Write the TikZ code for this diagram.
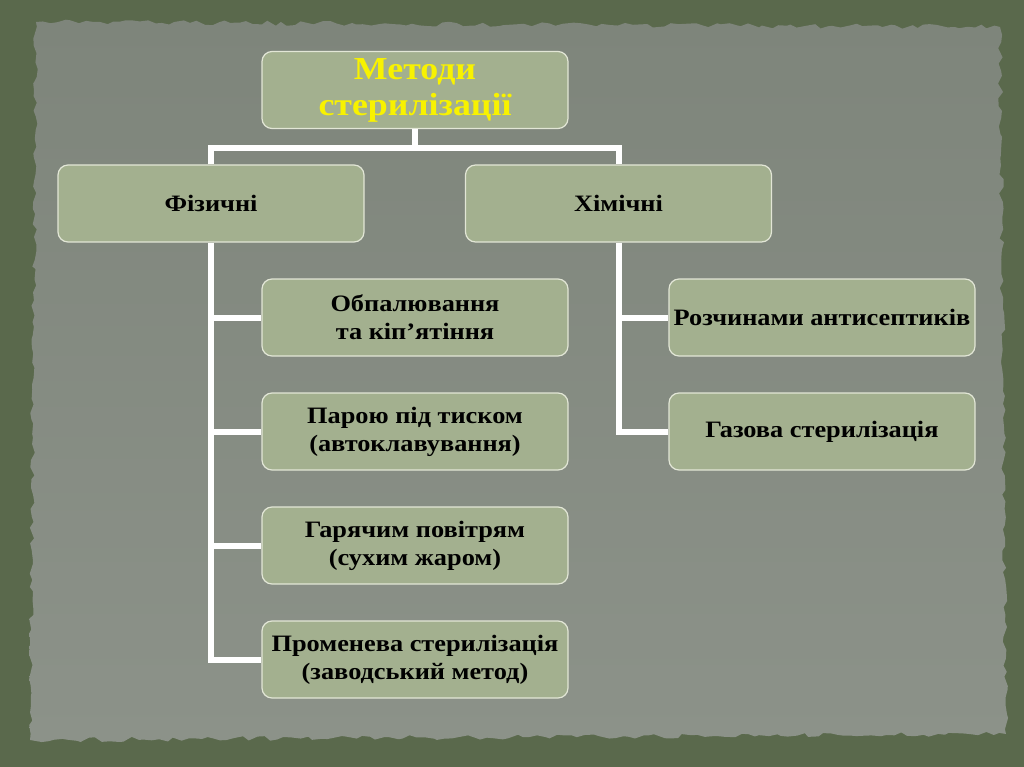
\documentclass[tikz,border=0pt]{standalone}
\usepackage{fontspec}
\setmainfont[FakeStretch=1.12]{Liberation Serif}
\usetikzlibrary{decorations.pathmorphing,calc}
\definecolor{frame}{HTML}{5A694C}
\definecolor{paperA}{HTML}{7E857B}
\definecolor{paperB}{HTML}{8C9289}
\definecolor{boxfill}{HTML}{A3B08F}
\definecolor{boxline}{HTML}{E2E6D6}
\definecolor{titleyellow}{HTML}{F8F200}
\begin{document}
\begin{tikzpicture}[x=1pt,y=-1pt,
  box/.style={draw=boxline, line width=1.2pt, fill=boxfill, rounded corners=10pt,
    minimum width=306pt, minimum height=77pt, align=center, inner sep=2pt,
    font=\fontsize{23.5}{28}\selectfont\bfseries, text=black},
  titlebox/.style={box, font=\fontsize{32}{36}\selectfont\bfseries, text=titleyellow},
  conn/.style={draw=white, line width=6pt}]
\pgfmathsetseed{7}
\useasboundingbox (0,0) rectangle (1024,767);
\fill[frame] (0,0) rectangle (1024,767);
\shade[top color=paperA, bottom color=paperB, decorate,
  decoration={random steps, segment length=7pt, amplitude=2.5pt}]
  (36,22) -- (1000,27) -- (1006,734) -- (30,740) -- cycle;

\node[titlebox] (top) at (415,90) {Методи\\стерилізації};
\node[box] (phys) at (211,203.5) {Фізичні};
\node[box] (chem) at (618.5,203.5) {Хімічні};
\node[box] (b1) at (415,317.5) {Обпалювання\\та кіп’ятіння};
\node[box] (b2) at (415,431.5) {Парою під тиском\\(автоклавування)};
\node[box] (b3) at (415,545.5) {Гарячим повітрям\\(сухим жаром)};
\node[box] (b4) at (415,659.5) {Променева стерилізація\\(заводський метод)};
\node[box] (c1) at (822,317.5) {Розчинами антисептиків};
\node[box] (c2) at (822,431.5) {Газова стерилізація};

\coordinate (hub) at ($(top.south)+(0,19)$);
\draw[conn] (top.south) -- (hub);
\draw[conn] (phys.north) |- (hub) -| (chem.north);
\draw[conn] (phys.south) |- (b4.west);
\draw[conn] (phys.south |- b1.west) -- (b1.west);
\draw[conn] (phys.south |- b2.west) -- (b2.west);
\draw[conn] (phys.south |- b3.west) -- (b3.west);
\draw[conn] (chem.south) |- (c2.west);
\draw[conn] (chem.south |- c1.west) -- (c1.west);
\end{tikzpicture}
\end{document}
